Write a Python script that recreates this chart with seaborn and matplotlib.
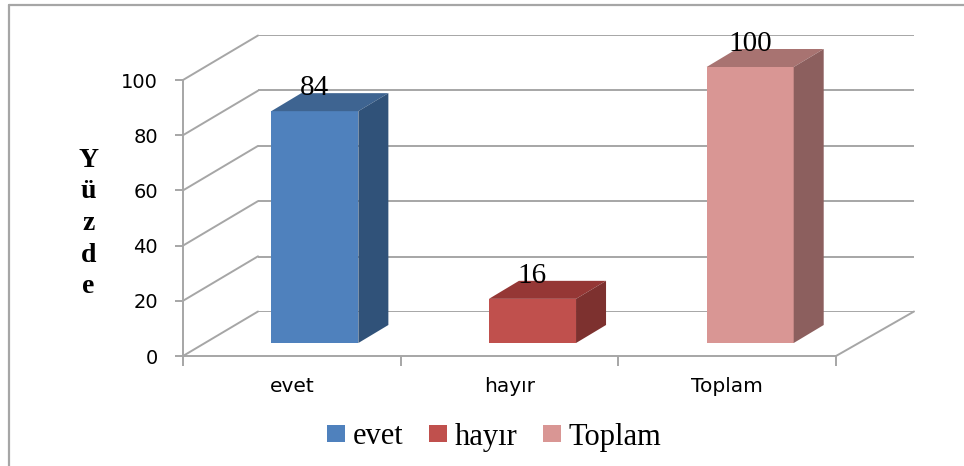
import matplotlib
matplotlib.use('Agg')
import matplotlib.pyplot as plt
from matplotlib.lines import Line2D
import pandas as pd
import seaborn as sns

categories = ['evet', 'hayır', 'Toplam']
values = [84, 16, 100]
yticks = [0, 20, 40, 60, 80, 100]
axisTitle = 'Y\nü\nz\nd\ne'

faceColors = ['#4F81BD', '#C0504D', '#D99694']
topColors = ['#3E6491', '#953735', '#A87371']
sideColors = ['#305279', '#7D312F', '#8C5F5E']
lineColor = '#A6A6A6'

W, H = 964, 466

def addAxes(fig, left, top, right, bottom):
    ax = fig.add_axes([left / W, 1 - bottom / H, (right - left) / W, (bottom - top) / H])
    ax.patch.set_alpha(0)
    return ax


if __name__ == '__main__':
    sns.set_style('white')
    plt.rcParams['text.color'] = 'black'
    df = pd.DataFrame({'category': categories, 'value': values})
    fig = plt.figure(figsize=(W / 100, H / 100), dpi=100)

    # outer frame, only top and left are visible
    fig.add_artist(Line2D([9 / W, 9 / W], [0, 1 - 5 / H], color=lineColor, lw=1.6))
    fig.add_artist(Line2D([9 / W, 1], [1 - 5 / H, 1 - 5 / H], color=lineColor, lw=1.6))

    # back wall
    axBack = addAxes(fig, 258, 35, 914, 312)
    axBack.set_xlim(0, 1)
    axBack.set_ylim(0, 100)
    axBack.set_yticks(yticks)
    axBack.set_xticks([])
    axBack.tick_params(left=False, labelleft=False)
    axBack.grid(axis='y', color=lineColor, lw=1.4)
    axBack.set_axisbelow(True)
    sns.despine(ax=axBack, left=True, bottom=True)

    # front axis with ticks and labels
    ax = addAxes(fig, 183, 80, 836, 356)
    ax.set_xlim(-0.5, 2.5)
    ax.set_ylim(0, 100)
    ax.set_yticks(yticks)
    ax.set_yticklabels([str(v) for v in yticks], fontsize=14, color='black')
    ax.set_xticks([-0.5, 0.5, 1.5, 2.5])
    ax.set_xticklabels([])
    ax.set_xticks([0, 1, 2], minor=True)
    ax.set_xticklabels(categories, minor=True, fontsize=14.5, color='black')
    ax.tick_params(axis='y', which='major', left=True, length=6, width=1.4, color=lineColor, pad=12)
    ax.tick_params(axis='x', which='major', bottom=True, length=7, width=1.4, color=lineColor)
    ax.tick_params(axis='x', which='minor', bottom=False, length=0, pad=15)
    for side in ['left', 'bottom']:
        ax.spines[side].set_color(lineColor)
        ax.spines[side].set_linewidth(1.4)
    sns.despine(ax=ax)

    # side wall and floor diagonals
    wallX = 75 / (653 / 3)
    wallY = 44.5 / 2.76
    for v in yticks:
        ax.plot([-0.5, -0.5 + wallX], [v, v + wallY], color=lineColor, lw=1.4, clip_on=False)
    ax.plot([2.5, 2.5 + wallX * 1.04], [0, wallY], color=lineColor, lw=1.4, clip_on=False)
    ax.text(-0.935, 48, axisTitle, ha='center', va='center', fontsize=20, fontweight='bold',
            family='Liberation Serif', linespacing=1.35, color='black')

    # bars stand on a plane a little behind the front axis
    axBar = addAxes(fig, 206, 67, 859, 343)
    sns.barplot(data=df, x='category', y='value', hue='category', palette=faceColors,
                width=0.4, saturation=1, legend=True, linewidth=0, ax=axBar)
    axBar.set_xlim(-0.5, 2.5)
    axBar.set_ylim(0, 100)
    axBar.axis('off')

    depthX = 30 / (653 / 3)
    depthY = 18 / 2.76
    bars = [p for c in axBar.containers for p in c if p.get_height() > 0]
    for bar, topColor, sideColor in zip(bars, topColors, sideColors):
        x0 = bar.get_x()
        x1 = x0 + bar.get_width()
        y1 = bar.get_height()
        axBar.fill([x0, x1, x1 + depthX, x0 + depthX], [y1, y1, y1 + depthY, y1 + depthY],
                   color=topColor, lw=0, clip_on=False)
        axBar.fill([x1, x1 + depthX, x1 + depthX, x1], [0, depthY, y1 + depthY, y1],
                   color=sideColor, lw=0, clip_on=False)
        axBar.annotate(str(int(y1)), (x0 + bar.get_width() / 2, y1), xytext=(0, 16.5),
                       textcoords='offset points', ha='center', va='center', fontsize=21,
                       family='Liberation Serif', color='black', annotation_clip=False)

    sns.move_legend(axBar, 'center', bbox_to_anchor=(494 / W, 1 - 437 / H),
                    bbox_transform=fig.transFigure, ncol=3, frameon=False, title=None,
                    handlelength=0.58, handleheight=0.45, handletextpad=0.25,
                    columnspacing=0.85, labelcolor='black',
                    prop={'family': 'Liberation Serif', 'size': 22})

    fig.savefig('out.png', dpi=100, facecolor='white')
